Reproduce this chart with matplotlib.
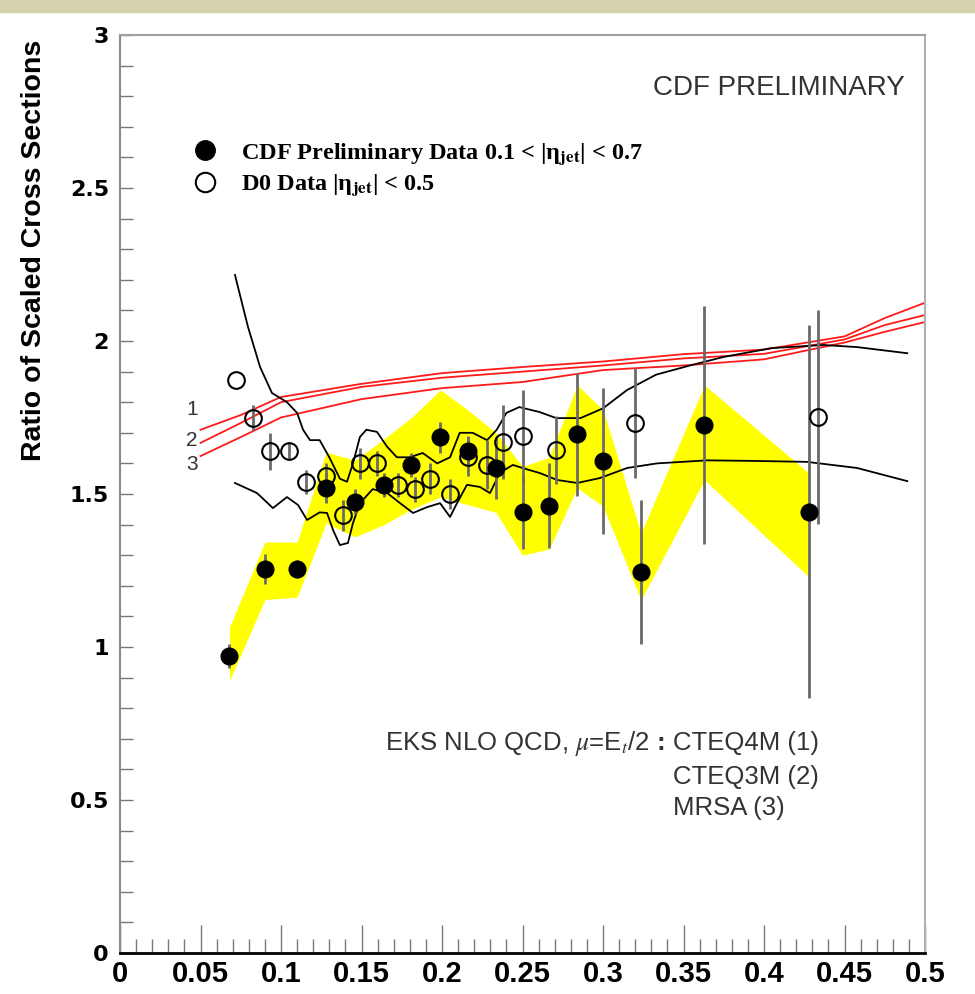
import matplotlib
matplotlib.use('Agg')
import matplotlib.pyplot as plt
from matplotlib.lines import Line2D
from matplotlib.patches import Rectangle
from matplotlib.ticker import MultipleLocator

plt.rcParams['mathtext.fontset'] = 'stix'

# ---------------- data ----------------
# CDF preliminary data (filled circles)
x_cdf = [0.068, 0.090, 0.110, 0.128, 0.146, 0.164, 0.181, 0.199, 0.216, 0.2335,
         0.250, 0.2665, 0.284, 0.300, 0.3236, 0.363, 0.428]
y_cdf = [0.97, 1.255, 1.255, 1.52, 1.475, 1.53, 1.595, 1.685, 1.64, 1.585,
         1.44, 1.462, 1.695, 1.608, 1.245, 1.725, 1.442]
err_cdf = [0.04, 0.05, 0.03, 0.05, 0.04, 0.04, 0.04, 0.05, 0.05, 0.10,
           0.12, 0.14, 0.20, 0.24, 0.235, 0.39, 0.61]
# systematic band around CDF data (yellow)
band_lo = [0.89, 1.155, 1.163, 1.405, 1.36, 1.40, 1.45, 1.49, 1.465, 1.44,
           1.30, 1.32, 1.52, 1.46, 1.154, 1.546, 1.229]
band_hi = [1.065, 1.343, 1.343, 1.637, 1.61, 1.68, 1.75, 1.84, 1.775, 1.70,
           1.59, 1.62, 1.856, 1.775, 1.372, 1.856, 1.568]

# D0 data (open circles)
x_d0 = [0.072, 0.0826, 0.093, 0.105, 0.1155, 0.128, 0.1385, 0.149, 0.1596, 0.1727,
        0.183, 0.1925, 0.205, 0.216, 0.228, 0.238, 0.250, 0.271, 0.320, 0.4335]
y_d0 = [1.873, 1.75, 1.64, 1.64, 1.54, 1.56, 1.43, 1.60, 1.60, 1.53,
        1.515, 1.55, 1.50, 1.62, 1.595, 1.67, 1.69, 1.644, 1.732, 1.752]
err_d0 = [0.0, 0.04, 0.06, 0.03, 0.04, 0.04, 0.05, 0.05, 0.04, 0.04,
          0.04, 0.05, 0.05, 0.06, 0.08, 0.12, 0.15, 0.11, 0.18, 0.35]

# EKS NLO QCD predictions (red): CTEQ4M (1), CTEQ3M (2), MRSA (3)
x_th = [0.05, 0.075, 0.1, 0.15, 0.2, 0.25, 0.3, 0.35, 0.4, 0.45, 0.475, 0.5]
th_cteq4m = [1.71, 1.758, 1.817, 1.86, 1.895, 1.915, 1.933, 1.957, 1.972, 2.015, 2.075, 2.125]
th_cteq3m = [1.667, 1.732, 1.80, 1.85, 1.88, 1.90, 1.92, 1.943, 1.958, 2.005, 2.052, 2.085]
th_mrsa = [1.624, 1.686, 1.75, 1.81, 1.846, 1.866, 1.905, 1.92, 1.94, 1.995, 2.03, 2.062]

# black envelope curves
x_up = [0.0714, 0.0795, 0.087, 0.0944, 0.1037, 0.110, 0.1137, 0.118, 0.124, 0.130,
        0.1366, 0.141, 0.1447, 0.149, 0.153, 0.1596, 0.166, 0.172, 0.180, 0.188,
        0.197, 0.205, 0.211, 0.219, 0.228, 0.234, 0.240, 0.248, 0.2605, 0.271,
        0.286, 0.300, 0.315, 0.333, 0.354, 0.375, 0.405, 0.437, 0.458, 0.489]
y_up = [2.216, 2.046, 1.915, 1.83, 1.80, 1.765, 1.71, 1.676, 1.676, 1.62,
        1.55, 1.54, 1.60, 1.686, 1.71, 1.703, 1.654, 1.62, 1.62, 1.634,
        1.60, 1.62, 1.70, 1.70, 1.676, 1.71, 1.765, 1.784, 1.768, 1.748,
        1.748, 1.78, 1.84, 1.89, 1.92, 1.948, 1.977, 1.987, 1.98, 1.96]
x_low = [0.0714, 0.0851, 0.0950, 0.1037, 0.1106, 0.1162, 0.124, 0.1286, 0.1325, 0.1366,
         0.1416, 0.1447, 0.149, 0.157, 0.166, 0.174, 0.182, 0.1907, 0.1988, 0.205,
         0.2093, 0.2155, 0.2236, 0.2298, 0.236, 0.244, 0.250, 0.261, 0.2714, 0.284,
         0.298, 0.315, 0.3335, 0.3646, 0.3957, 0.4267, 0.4578, 0.489]
y_low = [1.536, 1.503, 1.454, 1.49, 1.464, 1.415, 1.44, 1.438, 1.38, 1.333,
         1.34, 1.405, 1.47, 1.516, 1.503, 1.47, 1.438, 1.457, 1.47, 1.425,
         1.47, 1.53, 1.523, 1.503, 1.57, 1.595, 1.585, 1.568, 1.546, 1.536,
         1.552, 1.585, 1.60, 1.61, 1.608, 1.605, 1.585, 1.542]

x_ticks = [0, 0.05, 0.1, 0.15, 0.2, 0.25, 0.3, 0.35, 0.4, 0.45, 0.5]
x_ticklabels = ['0', '0.05', '0.1', '0.15', '0.2', '0.25', '0.3', '0.35', '0.4', '0.45', '0.5']
y_ticks = [0, 0.5, 1, 1.5, 2, 2.5, 3]
y_ticklabels = ['0', '0.5', '1', '1.5', '2', '2.5', '3']

# ---------------- figure ----------------
fig = plt.figure(figsize=(9.75, 9.94), dpi=100)
fig.patches.append(Rectangle((0, 1 - 12 / 994), 1, 12 / 994, transform=fig.transFigure,
                             color='#d4d1ac', zorder=0))
ax = fig.add_axes([120 / 975, 41 / 994, 805 / 975, 918 / 994])
ax.set_xlim(0, 0.5)
ax.set_ylim(0, 3)

ax.fill_between(x_cdf, band_lo, band_hi, color='#ffff00', lw=0, zorder=1)
for yth in (th_cteq4m, th_cteq3m, th_mrsa):
    ax.plot(x_th, yth, color='#ff1a1a', lw=1.3, zorder=2)
ax.plot(x_up, y_up, color='black', lw=1.3, zorder=3)
ax.plot(x_low, y_low, color='black', lw=1.3, zorder=3)

ax.errorbar(x_cdf, y_cdf, yerr=err_cdf, fmt='none', ecolor='#6a6a6a', elinewidth=2, zorder=4)
ax.errorbar(x_d0, y_d0, yerr=err_d0, fmt='none', ecolor='#6a6a6a', elinewidth=2, zorder=4)
ax.plot(x_cdf, y_cdf, 'o', ms=12, color='black', zorder=5)
ax.plot(x_d0, y_d0, 'o', ms=12, mfc='none', mec='black', mew=1.5, zorder=5)

# ticks
ax.set_xticks(x_ticks)
ax.set_xticklabels(x_ticklabels)
ax.xaxis.set_minor_locator(MultipleLocator(0.01))
ax.set_yticks(y_ticks)
ax.set_yticklabels(y_ticklabels)
ax.yaxis.set_minor_locator(MultipleLocator(0.1))
ax.tick_params(axis='x', which='major', direction='in', length=20, width=1, color='#777777', pad=5)
ax.tick_params(axis='x', which='minor', direction='in', length=10, width=1, color='#777777')
ax.tick_params(axis='y', which='both', direction='in', length=9, width=1, color='#777777', pad=8)
for lab in ax.get_xticklabels():
    lab.set_fontfamily('Liberation Sans')
    lab.set_fontweight('bold')
    lab.set_fontsize(21)
for lab in ax.get_yticklabels():
    lab.set_fontfamily('DejaVu Sans')
    lab.set_fontweight('bold')
    lab.set_fontsize(16)

for side, col, lw in (('left', '#8a8a8a', 1.5), ('top', '#a0a0a0', 1.5),
                      ('right', '#b0b0b0', 1.5), ('bottom', 'black', 2.0)):
    ax.spines[side].set_color(col)
    ax.spines[side].set_linewidth(lw)

fig.text(34 / 975, 1 - 250 / 994, 'Ratio of Scaled Cross Sections', rotation=90,
         ha='center', va='center', fontsize=20.5, fontweight='bold',
         family='Liberation Sans')

# legend
handles = [Line2D([], [], marker='o', ls='none', color='black', ms=14),
           Line2D([], [], marker='o', ls='none', mfc='none', mec='black', mew=1.5, ms=14)]
labels = [r'CDF Preliminary Data 0.1 < |η$_{\mathbf{jet}}$| < 0.7',
          r'D0 Data |η$_{\mathbf{jet}}$| < 0.5']
leg = ax.legend(handles, labels, loc='upper left', bbox_to_anchor=(0.092, 0.884),
                frameon=False, borderpad=0, borderaxespad=0, handlelength=0.9,
                handletextpad=1.05, labelspacing=0.22,
                prop={'family': 'Liberation Serif', 'weight': 'bold', 'size': 17.5})

ax.text(0.975, 0.942, 'CDF PRELIMINARY', transform=ax.transAxes, ha='right', va='center',
        fontsize=20, color='#333333', family='Liberation Sans')

txt_kw = dict(fontsize=18.5, color='#333333', family='Liberation Sans', va='center')
ax.text(0.1646, 0.686, r'EKS NLO QCD, $\mu$=E$_t$/2', ha='left', **txt_kw)
ax.text(0.336, 0.686, ':', ha='center', fontweight='bold', **txt_kw)
ax.text(0.3435, 0.686, 'CTEQ4M (1)', ha='left', **txt_kw)
ax.text(0.3435, 0.575, 'CTEQ3M (2)', ha='left', **txt_kw)
ax.text(0.3435, 0.474, 'MRSA (3)', ha='left', **txt_kw)

lab_kw = dict(fontsize=15, color='#333333', family='Liberation Sans', ha='center', va='center')
ax.text(0.0447, 1.775, '1', **lab_kw)
ax.text(0.0447, 1.676, '2', **lab_kw)
ax.text(0.0447, 1.595, '3', **lab_kw)

fig.savefig('out.png', dpi=100)
